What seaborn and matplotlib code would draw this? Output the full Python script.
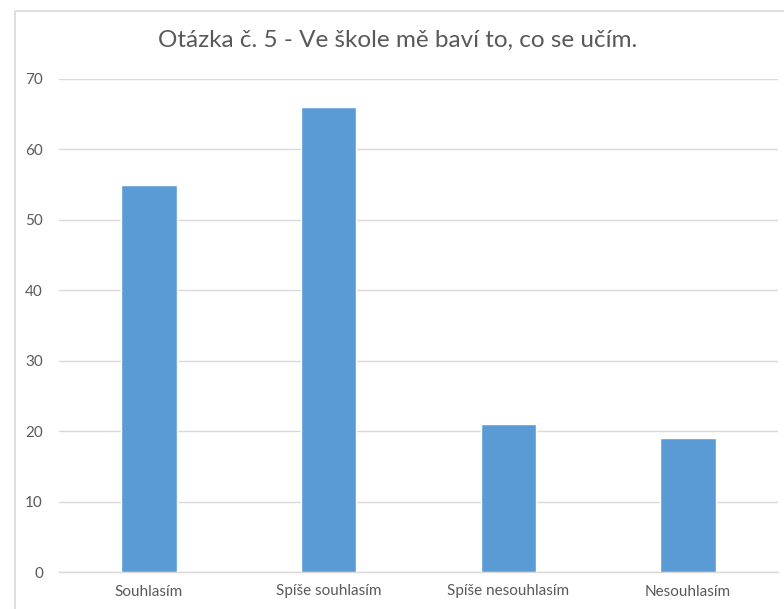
import matplotlib
matplotlib.use("Agg")
import matplotlib.pyplot as plt
import matplotlib.patches as mpatches
import pandas as pd
import seaborn as sns

categories = ["Souhlasím", "Spíše souhlasím", "Spíše nesouhlasím", "Nesouhlasím"]
values = [55, 66, 21, 19]
yticks = [0, 10, 20, 30, 40, 50, 60, 70]
title = "Otázka č. 5 - Ve škole mě baví to, co se učím."

sns.set_theme(style="white")
plt.rcParams['font.family'] = ['Lato', 'DejaVu Sans']

W, H = 784, 609
fig = plt.figure(figsize=(W / 100, H / 100), dpi=100)
ax = fig.add_axes([59 / W, 1 - 572 / H, (778 - 59) / W, (572 - 79) / H])

df = pd.DataFrame({"cat": categories, "val": values})
sns.barplot(data=df, x="cat", y="val", color="#5B9BD5", saturation=1,
            width=0.31, ax=ax, zorder=3)

ax.set_xlim(-0.5, 3.5)
ax.set_ylim(0, 70)
ax.set_yticks(yticks)
ax.set_xlabel("")
ax.set_ylabel("")
ax.yaxis.grid(True, color="#D9D9D9", linewidth=1, zorder=0)
for s in ["top", "right", "left"]:
    ax.spines[s].set_visible(False)
ax.spines["bottom"].set_color("#D9D9D9")
ax.spines["bottom"].set_linewidth(1)
ax.tick_params(axis="both", length=0, colors="#595959", labelsize=11)
ax.tick_params(axis="y", pad=11.5)
ax.tick_params(axis="x", pad=9)

fig.text(398 / W, 1 - 40 / H, title, ha="center", va="center",
         fontsize=17.5, color="#595959")

# chart area border
fig.patches.append(mpatches.Rectangle((15 / W, -0.1), 1.2, 1 - 11 / H + 0.1,
                                      transform=fig.transFigure, fill=False,
                                      edgecolor="#D9D9D9", linewidth=1.2))

fig.savefig("out.png", dpi=100)
